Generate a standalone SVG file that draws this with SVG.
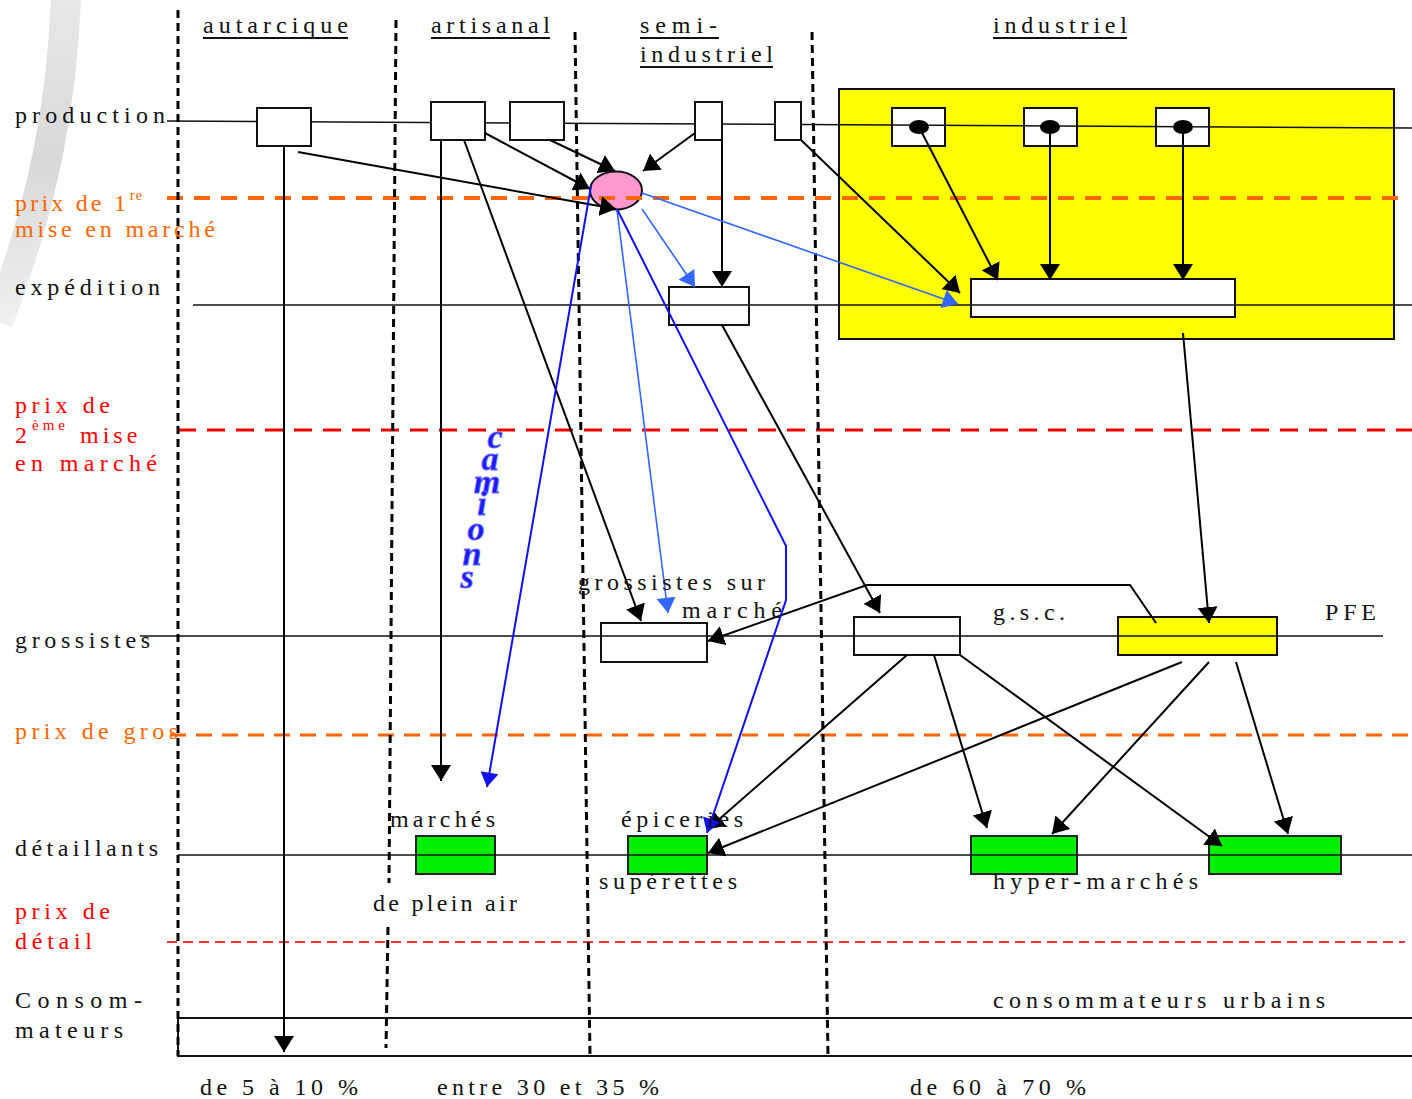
<svg xmlns="http://www.w3.org/2000/svg" width="1412" height="1099" viewBox="0 0 1412 1099">
<style>
text{font-family:"Liberation Serif","Times New Roman",serif;font-size:24px;fill:#111}
.or{fill:#ff6600}
.rd{fill:#ff0000}
.cam{font-size:34px;font-weight:bold;font-style:italic;fill:#1a1aff;stroke:#6a6aff;stroke-width:0.8}
.box{fill:#fff;stroke:#111;stroke-width:2}
.grn{fill:#00ee00;stroke:#222;stroke-width:2}
.yel{fill:#ffff00;stroke:#111;stroke-width:2}
.row{stroke:#111;stroke-width:1.5;fill:none}
.vd{stroke:#000;stroke-width:3;stroke-dasharray:8 5;fill:none}
.c{stroke:#000;stroke-width:2;fill:none;marker-end:url(#ab)}
.lb{stroke:#3366ff;stroke-width:1.6;fill:none;marker-end:url(#al)}
.db{stroke:#1010f0;stroke-width:2;fill:none;marker-end:url(#ad)}
.ul{stroke:#111;stroke-width:2}
</style>
<defs>
<marker id="ab" viewBox="0 0 16 20" refX="16" refY="10" markerWidth="16" markerHeight="20" orient="auto" markerUnits="userSpaceOnUse"><path d="M0,0 L16,10 L0,20 z" fill="#000"/></marker>
<marker id="al" viewBox="0 0 16 20" refX="16" refY="10" markerWidth="16" markerHeight="19" orient="auto" markerUnits="userSpaceOnUse"><path d="M0,0 L16,10 L0,20 z" fill="#3366ff"/></marker>
<marker id="ad" viewBox="0 0 16 20" refX="16" refY="10" markerWidth="16" markerHeight="18" orient="auto" markerUnits="userSpaceOnUse"><path d="M0,0 L16,10 L0,20 z" fill="#1010f0"/></marker>
<linearGradient id="arcg" x1="0" y1="0" x2="0" y2="1">
<stop offset="0" stop-color="#e2e2e2"/><stop offset="0.5" stop-color="#cfcfcf"/><stop offset="1" stop-color="#ececec"/>
</linearGradient>
</defs>
<rect width="1412" height="1099" fill="#fff"/>
<path d="M66 -2 C62 100 45 200 -2 322" stroke="url(#arcg)" stroke-width="30" fill="none" opacity="0.8"/>

<g id="industrial-zone"><rect x="839" y="89" width="555" height="250" class="yel"/></g>

<g id="nodes-lower">
<g id="ind-prod-1"><rect x="892" y="108" width="53" height="38" class="box"/></g>
<g id="ind-prod-2"><rect x="1024" y="108" width="53" height="38" class="box"/></g>
<g id="ind-prod-3"><rect x="1156" y="108" width="53" height="38" class="box"/></g>
<g id="ind-expedition"><rect x="971" y="279" width="264" height="38" class="box"/></g>
<g id="semi-expedition"><rect x="669" y="287" width="80" height="38" class="box"/></g>
<g id="grossistes-marche"><rect x="601" y="623" width="106" height="39" class="box"/></g>
<g id="gsc"><rect x="854" y="617" width="106" height="38" class="box"/></g>
<g id="pfe"><rect x="1118" y="617" width="159" height="38" class="yel"/></g>
<g id="marches"><rect x="416" y="836" width="79" height="38" class="grn"/></g>
<g id="epiceries"><rect x="628" y="836" width="79" height="38" class="grn"/></g>
<g id="hyper-1"><rect x="971" y="836" width="106" height="38" class="grn"/></g>
<g id="hyper-2"><rect x="1209" y="836" width="132" height="38" class="grn"/></g>
<g id="consommateurs"><rect x="178" y="1018" width="1240" height="38" fill="none" stroke="#111" stroke-width="2"/></g>
<g id="ellipse-node"><ellipse cx="616" cy="190.5" rx="26" ry="19" fill="#ff99cc" stroke="#111" stroke-width="2"/></g>
</g>

<g id="guides">
<line x1="167" y1="121" x2="1412" y2="128" class="row"/>
<line x1="193" y1="305" x2="1412" y2="305" class="row"/>
<line x1="140" y1="636" x2="1383" y2="636" class="row"/>
<line x1="178" y1="855" x2="1412" y2="855" class="row"/>
<line x1="167" y1="198" x2="1398" y2="198" stroke="#ff6600" stroke-width="4" stroke-dasharray="16 11"/>
<line x1="178" y1="430" x2="1412" y2="430" stroke="#ee0000" stroke-width="3" stroke-dasharray="18 11"/>
<line x1="170" y1="735" x2="1412" y2="735" stroke="#ff6600" stroke-width="3" stroke-dasharray="16 10"/>
<line x1="167" y1="942" x2="1405" y2="942" stroke="#ff3030" stroke-width="2" stroke-dasharray="10 6"/>
<line x1="178" y1="10" x2="178" y2="1056" class="vd"/>
<path d="M396 20 L389 883 M388 927 L386 1048" class="vd"/>
<line x1="575" y1="32" x2="590" y2="1056" class="vd"/>
<line x1="812" y1="32" x2="828" y2="1056" class="vd"/>
</g>

<g id="nodes-production">
<g id="autarcique-prod"><rect x="257" y="108" width="54" height="38" class="box"/></g>
<g id="artisanal-prod-1"><rect x="431" y="102" width="54" height="38" class="box"/></g>
<g id="artisanal-prod-2"><rect x="510" y="102" width="54" height="38" class="box"/></g>
<g id="semi-prod-1"><rect x="695" y="102" width="27" height="38" class="box"/></g>
<g id="semi-prod-2"><rect x="775" y="102" width="26" height="38" class="box"/></g>
<g id="ind-dots"><ellipse cx="919" cy="127" rx="10" ry="7" fill="#000"/><ellipse cx="1050" cy="127" rx="10" ry="7" fill="#000"/><ellipse cx="1183" cy="127" rx="10" ry="7" fill="#000"/></g>
</g>

<g id="connectors">
<line x1="284" y1="146" x2="284" y2="1052" class="c"/>
<line x1="298" y1="152" x2="616" y2="209" class="c"/>
<line x1="485" y1="133" x2="590" y2="189" class="c"/>
<line x1="550" y1="140" x2="615" y2="171" class="c"/>
<line x1="695" y1="133" x2="643" y2="171" class="c"/>
<line x1="722" y1="140" x2="722" y2="287" class="c"/>
<line x1="441" y1="140" x2="441" y2="781" class="c"/>
<line x1="464" y1="140" x2="641" y2="621" class="c"/>
<line x1="801" y1="140" x2="960" y2="293" class="c"/>
<line x1="919" y1="127" x2="998" y2="280" class="c"/>
<line x1="1050" y1="127" x2="1050" y2="280" class="c"/>
<line x1="1183" y1="127" x2="1183" y2="280" class="c"/>
<line x1="1183" y1="333" x2="1209" y2="623" class="c"/>
<line x1="722" y1="325" x2="880" y2="613" class="c"/>
<polyline points="1156,623 1130,585 867,585 708,641" class="c"/>
<line x1="907" y1="655" x2="708" y2="829" class="c"/>
<line x1="934" y1="655" x2="987" y2="828" class="c"/>
<line x1="960" y1="655" x2="1222" y2="846" class="c"/>
<line x1="1182" y1="662" x2="708" y2="853" class="c"/>
<line x1="1209" y1="662" x2="1052" y2="834" class="c"/>
<line x1="1236" y1="662" x2="1288" y2="834" class="c"/>
<line x1="642" y1="193" x2="958" y2="304" class="lb"/>
<line x1="642" y1="209" x2="695" y2="287" class="lb"/>
<line x1="617" y1="210" x2="668" y2="613" class="lb"/>
<line x1="591" y1="186" x2="487" y2="787" class="db"/>
<polyline points="617,209 786,546 786,600 707,833" class="db"/>
</g>

<g id="labels">
<text x="203" y="33" textLength="145" lengthAdjust="spacing">autarcique</text>
<line x1="203" y1="38" x2="348" y2="38" class="ul"/>
<text x="431" y="33" textLength="119" lengthAdjust="spacing">artisanal</text>
<line x1="431" y1="38" x2="550" y2="38" class="ul"/>
<text x="640" y="33" textLength="77" lengthAdjust="spacing">semi-</text>
<line x1="640" y1="38" x2="719" y2="38" class="ul"/>
<text x="640" y="62" textLength="133" lengthAdjust="spacing">industriel</text>
<line x1="640" y1="67" x2="773" y2="67" class="ul"/>
<text x="993" y="33" textLength="134" lengthAdjust="spacing">industriel</text>
<line x1="993" y1="38" x2="1127" y2="38" class="ul"/>

<text x="15" y="123" textLength="150" lengthAdjust="spacing">production</text>
<text class="or" x="15" y="211" letter-spacing="3.2">prix de 1<tspan x="130" y="200" font-size="14" letter-spacing="1">re</tspan></text>
<text class="or" x="15" y="237" textLength="200" lengthAdjust="spacing">mise en marché</text>
<text x="15" y="295" textLength="145" lengthAdjust="spacing">expédition</text>
<text class="rd" x="15" y="413" textLength="95" lengthAdjust="spacing">prix de</text>
<text class="rd" x="15" y="443">2<tspan x="32" y="430" font-size="15" letter-spacing="4">ème</tspan> <tspan x="80" y="443" letter-spacing="4">mise</tspan></text>
<text class="rd" x="15" y="471" textLength="142" lengthAdjust="spacing">en marché</text>
<text x="15" y="648" textLength="135" lengthAdjust="spacing">grossistes</text>
<text class="or" x="15" y="739" textLength="163" lengthAdjust="spacing">prix de gros</text>
<text x="15" y="856" textLength="143" lengthAdjust="spacing">détaillants</text>
<text class="rd" x="15" y="919" textLength="95" lengthAdjust="spacing">prix de</text>
<text class="rd" x="15" y="949" textLength="77" lengthAdjust="spacing">détail</text>
<text x="15" y="1008" textLength="127" lengthAdjust="spacing">Consom-</text>
<text x="15" y="1038" textLength="108" lengthAdjust="spacing">mateurs</text>

<text x="578" y="590" textLength="187" lengthAdjust="spacing">grossistes sur</text>
<text x="682" y="618" textLength="100" lengthAdjust="spacing">marché</text>
<text x="993" y="620" textLength="72" lengthAdjust="spacing">g.s.c.</text>
<text x="1325" y="620" textLength="51" lengthAdjust="spacing">PFE</text>
<text x="390" y="827" textLength="105" lengthAdjust="spacing">marchés</text>
<text x="373" y="911" textLength="144" lengthAdjust="spacing">de plein air</text>
<text x="621" y="827" textLength="122" lengthAdjust="spacing">épiceries</text>
<text x="599" y="889" textLength="138" lengthAdjust="spacing">supérettes</text>
<text x="993" y="889" textLength="205" lengthAdjust="spacing">hyper-marchés</text>
<text x="993" y="1008" textLength="332" lengthAdjust="spacing">consommateurs urbains</text>
<text x="200" y="1095" textLength="158" lengthAdjust="spacing">de 5 à 10 %</text>
<text x="437" y="1095" textLength="222" lengthAdjust="spacing">entre 30 et 35 %</text>
<text x="910" y="1095" textLength="176" lengthAdjust="spacing">de 60 à 70 %</text>

<text class="cam" text-anchor="middle"><tspan x="495" y="448">c</tspan><tspan x="490" y="470">a</tspan><tspan x="487" y="493">m</tspan><tspan x="482" y="515">i</tspan><tspan x="476" y="540">o</tspan><tspan x="472" y="565">n</tspan><tspan x="467" y="588">s</tspan></text>
</g>
</svg>
